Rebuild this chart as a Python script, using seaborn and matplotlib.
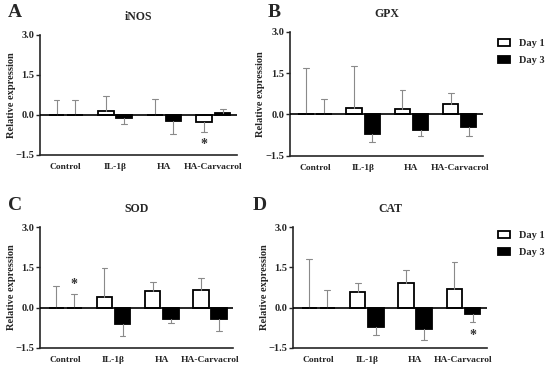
import numpy as np
import pandas as pd
import seaborn as sns
import matplotlib.pyplot as plt

sns.set_theme(style="ticks")
plt.rcParams['font.family'] = ['Liberation Serif', 'DejaVu Serif']
plt.rcParams['font.weight'] = 'bold'

groups = ["Control", "IL-1β", "HA", "HA-Carvacrol"]
days = ["Day 1", "Day 3"]

# mean relative expression and one-sided error length, per panel
inos_d1 = [0.0, 0.15, 0.0, -0.25]
inos_d1_err = [0.55, 0.56, 0.60, 0.38]
inos_d3 = [0.0, -0.13, -0.24, 0.06]
inos_d3_err = [0.55, 0.21, 0.46, 0.15]

gpx_d1 = [0.0, 0.235, 0.21, 0.38]
gpx_d1_err = [1.67, 1.52, 0.69, 0.38]
gpx_d3 = [0.0, -0.73, -0.56, -0.45]
gpx_d3_err = [0.55, 0.26, 0.24, 0.34]

sod_d1 = [0.0, 0.39, 0.61, 0.66]
sod_d1_err = [0.79, 1.09, 0.33, 0.45]
sod_d3 = [0.0, -0.61, -0.41, -0.43]
sod_d3_err = [0.52, 0.45, 0.18, 0.44]

cat_d1 = [0.0, 0.58, 0.92, 0.71]
cat_d1_err = [1.80, 0.34, 0.47, 1.01]
cat_d3 = [0.0, -0.71, -0.79, -0.24]
cat_d3_err = [0.64, 0.32, 0.40, 0.31]

# significance stars: (group index, day index, y)
inos_stars = [(3, 0, -1.1)]
gpx_stars = []
sod_stars = [(0, 1, 0.85)]
cat_stars = [(3, 1, -1.02)]

panels = [
    ("A", "iNOS", inos_d1, inos_d1_err, inos_d3, inos_d3_err, inos_stars, False),
    ("B", "GPX", gpx_d1, gpx_d1_err, gpx_d3, gpx_d3_err, gpx_stars, True),
    ("C", "SOD", sod_d1, sod_d1_err, sod_d3, sod_d3_err, sod_stars, False),
    ("D", "CAT", cat_d1, cat_d1_err, cat_d3, cat_d3_err, cat_stars, True),
]

# axes rectangles in figure fraction [left, bottom, width, height]
rects = [
    [0.073, 0.578, 0.358, 0.327],
    [0.527, 0.576, 0.351, 0.337],
    [0.073, 0.052, 0.351, 0.329],
    [0.533, 0.052, 0.352, 0.329],
]
letter_pos = [(0.015, 0.965), (0.487, 0.965), (0.015, 0.44), (0.46, 0.44)]
legend_pos = [None, (0.905, 0.893), None, (0.905, 0.37)]

fig = plt.figure(figsize=(5.5, 3.67), dpi=100)

for (letter, name, d1, e1, d3, e3, stars, show_leg), rect, lp, lgp in zip(panels, rects, letter_pos, legend_pos):
    ax = fig.add_axes(rect)
    df = pd.DataFrame({
        "group": groups * 2,
        "day": [days[0]] * 4 + [days[1]] * 4,
        "value": d1 + d3,
    })
    sns.barplot(data=df, x="group", y="value", hue="day", ax=ax,
                palette=["white", "black"], edgecolor="black", linewidth=1.3,
                width=0.75, gap=0.15, errorbar=None, legend=show_leg)
    errs = [e1, e3]
    for k, cont in enumerate(ax.containers):
        for bar, err in zip(cont.patches, errs[k]):
            x = bar.get_x() + bar.get_width() / 2
            h = bar.get_height()
            sign = 1 if h >= 0 else -1
            ax.plot([x, x], [h, h + sign * err], color="#8a8a8a", lw=0.8, zorder=1)
            ax.plot([x - 0.06, x + 0.06], [h + sign * err] * 2, color="#8a8a8a", lw=0.8, zorder=1)
    for gi, di, y in stars:
        bar = ax.containers[di].patches[gi]
        ax.text(bar.get_x() + bar.get_width() / 2, y, "*", ha="center", va="center",
                fontsize=10, color="#333333")
    ax.axhline(0, color="black", lw=1.2, zorder=3)
    ax.set_ylim(-1.5, 3.0)
    ax.set_xlim(-0.52, 3.48)
    ax.set_yticks([-1.5, 0.0, 1.5, 3.0])
    ax.set_yticklabels(["−1.5", "0.0", "1.5", "3.0"])
    ax.tick_params(axis="y", length=3, width=1, labelsize=7.5, pad=1)
    ax.tick_params(axis="x", length=0, labelsize=6.8, pad=6)
    for lab in ax.get_xticklabels() + ax.get_yticklabels():
        lab.set_fontweight("bold")
    ax.set_xlabel("")
    ax.set_ylabel("Relative expression", fontsize=7.5, fontweight="bold", labelpad=0)
    for s in ["left", "bottom"]:
        ax.spines[s].set_linewidth(1.2)
    sns.despine(ax=ax)
    ax.set_title(name, fontsize=8.5, fontweight="bold", pad=11)
    fig.text(lp[0], lp[1], letter, fontsize=14, fontweight="bold", va="center")
    if show_leg:
        ax.legend(loc="upper left", bbox_to_anchor=lgp, bbox_transform=fig.transFigure,
                  frameon=False, fontsize=7.5, handlelength=1.2, handleheight=0.6,
                  handletextpad=0.8, labelspacing=0.75, borderaxespad=0, borderpad=0)

fig.savefig("out.png", dpi=100)
